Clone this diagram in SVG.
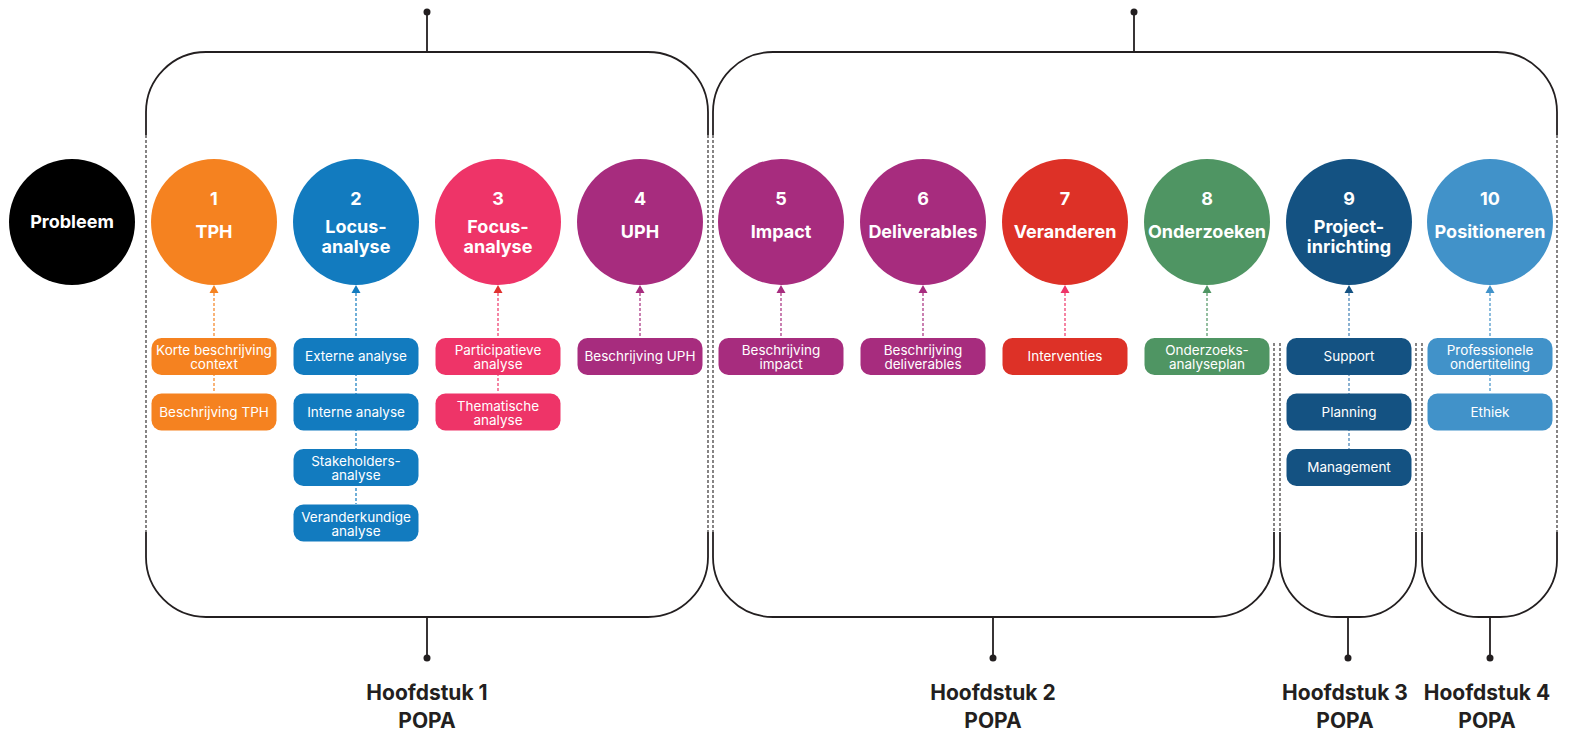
<svg xmlns="http://www.w3.org/2000/svg" width="1572" height="735" viewBox="0 0 1572 735">
<style>
.br{fill:none;stroke:#231F20;stroke-width:1.8}
.dl{fill:none;stroke:#231F20;stroke-width:1.1;stroke-dasharray:3 2}
.dot{fill:#231F20}
.ct{font-family:Inter,"Noto Sans",sans-serif;font-weight:700;font-size:18px;fill:#fff;text-anchor:middle}
.bt{font-family:Inter,"Noto Sans",sans-serif;font-weight:400;font-size:13.5px;fill:#fff;text-anchor:middle}
.ch{font-family:Inter,"Noto Sans",sans-serif;font-weight:700;font-size:21px;fill:#231F20;text-anchor:middle}
.cn{fill:none;stroke-width:1.2;stroke-dasharray:3 2}
</style>
<rect width="1572" height="735" fill="#fff"/>
<g id="brackets">
<path class="br" d="M146,135 V112 A60,60 0 0 1 206,52 H648 A60,60 0 0 1 708,112 V135"/>
<path class="br" d="M427,52 V12"/><circle class="dot" cx="427" cy="12" r="3.5"/>
<path class="br" d="M713,135 V112 A60,60 0 0 1 773,52 H1497 A60,60 0 0 1 1557,112 V135"/>
<path class="br" d="M1134,52 V12"/><circle class="dot" cx="1134" cy="12" r="3.5"/>
<path class="br" d="M146,532 V557 A60,60 0 0 0 206,617 H648 A60,60 0 0 0 708,557 V532"/>
<path class="br" d="M427,617 V658"/><circle class="dot" cx="427" cy="658" r="3.5"/>
<path class="br" d="M713,532 V557 A60,60 0 0 0 773,617 H1214 A60,60 0 0 0 1274,557 V532"/>
<path class="br" d="M993,617 V658"/><circle class="dot" cx="993" cy="658" r="3.5"/>
<path class="br" d="M1280,532 V560 A57,57 0 0 0 1337,617 H1359 A57,57 0 0 0 1416,560 V532"/>
<path class="br" d="M1348,617 V658"/><circle class="dot" cx="1348" cy="658" r="3.5"/>
<path class="br" d="M1422,532 V560 A57,57 0 0 0 1479,617 H1500 A57,57 0 0 0 1557,560 V532"/>
<path class="br" d="M1490,617 V658"/><circle class="dot" cx="1490" cy="658" r="3.5"/>
<path class="dl" d="M146,135 V532 M708,135 V532 M713,135 V532 M1557,135 V532 M1274,343 V532 M1280,343 V532 M1416,343 V532 M1422,343 V532"/>
</g>
<g id="connectors">
<path class="cn" stroke="#F58220" d="M214,293 V393"/><polygon fill="#F58220" points="209.5,293 218.5,293 214,285"/>
<path class="cn" stroke="#127BBF" d="M356,293 V504"/><polygon fill="#127BBF" points="351.5,293 360.5,293 356,285"/>
<path class="cn" stroke="#EE3468" d="M498,293 V393"/><polygon fill="#E0302E" points="493.5,293 502.5,293 498,285"/>
<path class="cn" stroke="#A72C7E" d="M640,293 V338"/><polygon fill="#A72C7E" points="635.5,293 644.5,293 640,285"/>
<path class="cn" stroke="#A72C7E" d="M781,293 V338"/><polygon fill="#A72C7E" points="776.5,293 785.5,293 781,285"/>
<path class="cn" stroke="#A72C7E" d="M923,293 V338"/><polygon fill="#A72C7E" points="918.5,293 927.5,293 923,285"/>
<path class="cn" stroke="#EE3468" d="M1065,293 V338"/><polygon fill="#EE3468" points="1060.5,293 1069.5,293 1065,285"/>
<path class="cn" stroke="#4F9563" d="M1207,293 V338"/><polygon fill="#4F9563" points="1202.5,293 1211.5,293 1207,285"/>
<path class="cn" stroke="#3F7FB5" d="M1349,293 V449"/><polygon fill="#145282" points="1344.5,293 1353.5,293 1349,285"/>
<path class="cn" stroke="#4192C9" d="M1490,293 V393"/><polygon fill="#4192C9" points="1485.5,293 1494.5,293 1490,285"/>
</g>
<g id="n0"><circle cx="72" cy="222" r="63" fill="#000"/><text class="ct" x="72" y="228" font-size="17">Probleem</text></g>
<g id="n1"><circle cx="214" cy="222" r="63" fill="#F58220"/><text class="ct" x="214" y="205">1</text><text class="ct" x="214" y="238">TPH</text></g>
<g id="n2"><circle cx="356" cy="222" r="63" fill="#127BBF"/><text class="ct" x="356" y="205">2</text><text class="ct" x="356" y="233">Locus-</text><text class="ct" x="356" y="253">analyse</text></g>
<g id="n3"><circle cx="498" cy="222" r="63" fill="#EE3468"/><text class="ct" x="498" y="205">3</text><text class="ct" x="498" y="233">Focus-</text><text class="ct" x="498" y="253">analyse</text></g>
<g id="n4"><circle cx="640" cy="222" r="63" fill="#A72C7E"/><text class="ct" x="640" y="205">4</text><text class="ct" x="640" y="238">UPH</text></g>
<g id="n5"><circle cx="781" cy="222" r="63" fill="#A72C7E"/><text class="ct" x="781" y="205">5</text><text class="ct" x="781" y="238">Impact</text></g>
<g id="n6"><circle cx="923" cy="222" r="63" fill="#A72C7E"/><text class="ct" x="923" y="205">6</text><text class="ct" x="923" y="238">Deliverables</text></g>
<g id="n7"><circle cx="1065" cy="222" r="63" fill="#DD3127"/><text class="ct" x="1065" y="205">7</text><text class="ct" x="1065" y="238">Veranderen</text></g>
<g id="n8"><circle cx="1207" cy="222" r="63" fill="#4F9563"/><text class="ct" x="1207" y="205">8</text><text class="ct" x="1207" y="238">Onderzoeken</text></g>
<g id="n9"><circle cx="1349" cy="222" r="63" fill="#145282"/><text class="ct" x="1349" y="205">9</text><text class="ct" x="1349" y="233">Project-</text><text class="ct" x="1349" y="253">inrichting</text></g>
<g id="n10"><circle cx="1490" cy="222" r="63" fill="#4192C9"/><text class="ct" x="1490" y="205">10</text><text class="ct" x="1490" y="238">Positioneren</text></g>
<g id="b1a"><rect x="151.5" y="338" width="125" height="37" rx="10" fill="#F58220"/><text class="bt" x="214" y="355">Korte beschrijving</text><text class="bt" x="214" y="369">context</text></g>
<g id="b1b"><rect x="151.5" y="393.5" width="125" height="37" rx="10" fill="#F58220"/><text class="bt" x="214" y="416.5">Beschrijving TPH</text></g>
<g id="b2a"><rect x="293.5" y="338" width="125" height="37" rx="10" fill="#127BBF"/><text class="bt" x="356" y="361">Externe analyse</text></g>
<g id="b2b"><rect x="293.5" y="393.5" width="125" height="37" rx="10" fill="#127BBF"/><text class="bt" x="356" y="416.5">Interne analyse</text></g>
<g id="b2c"><rect x="293.5" y="449" width="125" height="37" rx="10" fill="#127BBF"/><text class="bt" x="356" y="466">Stakeholders-</text><text class="bt" x="356" y="480">analyse</text></g>
<g id="b2d"><rect x="293.5" y="504.5" width="125" height="37" rx="10" fill="#127BBF"/><text class="bt" x="356" y="521.5">Veranderkundige</text><text class="bt" x="356" y="535.5">analyse</text></g>
<g id="b3a"><rect x="435.5" y="338" width="125" height="37" rx="10" fill="#EE3468"/><text class="bt" x="498" y="355">Participatieve</text><text class="bt" x="498" y="369">analyse</text></g>
<g id="b3b"><rect x="435.5" y="393.5" width="125" height="37" rx="10" fill="#EE3468"/><text class="bt" x="498" y="410.5">Thematische</text><text class="bt" x="498" y="424.5">analyse</text></g>
<g id="b4a"><rect x="577.5" y="338" width="125" height="37" rx="10" fill="#A72C7E"/><text class="bt" x="640" y="361">Beschrijving UPH</text></g>
<g id="b5a"><rect x="718.5" y="338" width="125" height="37" rx="10" fill="#A72C7E"/><text class="bt" x="781" y="355">Beschrijving</text><text class="bt" x="781" y="369">impact</text></g>
<g id="b6a"><rect x="860.5" y="338" width="125" height="37" rx="10" fill="#A72C7E"/><text class="bt" x="923" y="355">Beschrijving</text><text class="bt" x="923" y="369">deliverables</text></g>
<g id="b7a"><rect x="1002.5" y="338" width="125" height="37" rx="10" fill="#DD3127"/><text class="bt" x="1065" y="361">Interventies</text></g>
<g id="b8a"><rect x="1144.5" y="338" width="125" height="37" rx="10" fill="#4F9563"/><text class="bt" x="1207" y="355">Onderzoeks-</text><text class="bt" x="1207" y="369">analyseplan</text></g>
<g id="b9a"><rect x="1286.5" y="338" width="125" height="37" rx="10" fill="#145282"/><text class="bt" x="1349" y="361">Support</text></g>
<g id="b9b"><rect x="1286.5" y="393.5" width="125" height="37" rx="10" fill="#145282"/><text class="bt" x="1349" y="416.5">Planning</text></g>
<g id="b9c"><rect x="1286.5" y="449" width="125" height="37" rx="10" fill="#145282"/><text class="bt" x="1349" y="472">Management</text></g>
<g id="b10a"><rect x="1427.5" y="338" width="125" height="37" rx="10" fill="#4192C9"/><text class="bt" x="1490" y="355">Professionele</text><text class="bt" x="1490" y="369">ondertiteling</text></g>
<g id="b10b"><rect x="1427.5" y="393.5" width="125" height="37" rx="10" fill="#4192C9"/><text class="bt" x="1490" y="416.5">Ethiek</text></g>
<g id="labels">
<text class="ch" x="427" y="700">Hoofdstuk 1</text><text class="ch" x="427" y="728">POPA</text>
<text class="ch" x="993" y="700">Hoofdstuk 2</text><text class="ch" x="993" y="728">POPA</text>
<text class="ch" x="1345" y="700">Hoofdstuk 3</text><text class="ch" x="1345" y="728">POPA</text>
<text class="ch" x="1487" y="700">Hoofdstuk 4</text><text class="ch" x="1487" y="728">POPA</text>
</g>
</svg>
